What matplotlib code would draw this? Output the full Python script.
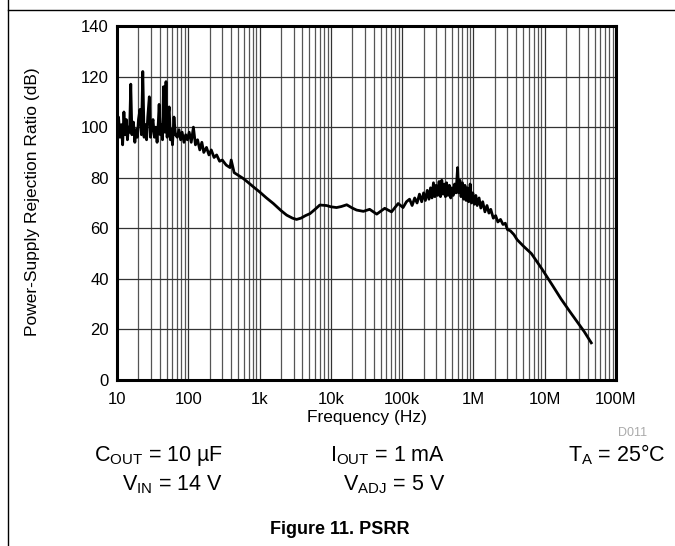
import numpy as np
import matplotlib
matplotlib.use("Agg")
import matplotlib.pyplot as plt
from matplotlib.lines import Line2D
from matplotlib.ticker import FixedLocator, LogLocator, NullFormatter

plt.rcParams['font.family'] = ['Liberation Sans', 'DejaVu Sans']
plt.rcParams['mathtext.fontset'] = 'custom'
plt.rcParams['mathtext.rm'] = 'Liberation Sans'
plt.rcParams['mathtext.it'] = 'Liberation Sans:italic'

# frequency (Hz) and PSRR (dB)
freq = [10, 10.5, 11, 11.5, 12, 12.5, 13, 13.5, 14, 14.5, 15, 15.6, 16.2, 17,
        17.8, 18.5, 19.3, 20, 21, 22, 23, 24, 25, 26, 27, 28.4, 29.5, 31, 32,
        33.5, 35, 36.5, 38, 39, 40.5, 42, 43.5, 45, 47, 48.7, 50.5, 52, 54, 56,
        58, 60, 63, 66, 70, 74, 78, 82, 87, 92, 97, 103, 110, 118, 126, 135,
        145, 155, 165, 180, 195, 210, 230, 250, 275, 300, 340, 385, 400, 440,
        500, 590, 700, 850, 1000, 1250, 1560, 2000, 2400, 2900, 3300, 3800,
        4400, 5100, 6000, 7000, 8700, 10e3, 12e3, 14e3, 16.7e3, 20e3, 23e3,
        28.6e3, 35e3, 44e3, 57e3, 71e3, 88e3, 103e3, 115e3, 127e3, 138e3,
        150e3, 162e3, 175e3, 188e3, 200e3, 212e3, 225e3, 238e3, 250e3, 262e3,
        275e3, 288e3, 300e3, 315e3, 330e3, 345e3, 360e3, 375e3, 390e3, 405e3,
        420e3, 440e3, 460e3, 480e3, 500e3, 520e3, 545e3, 570e3, 600e3, 620e3,
        645e3, 670e3, 700e3, 730e3, 760e3, 790e3, 820e3, 860e3, 900e3, 940e3,
        980e3, 1.03e6, 1.08e6, 1.13e6, 1.2e6, 1.27e6, 1.35e6, 1.45e6, 1.55e6,
        1.65e6, 1.75e6, 1.9e6, 2.05e6, 2.2e6, 2.4e6, 2.6e6, 2.8e6, 3.0e6,
        3.3e6, 3.7e6, 4.1e6, 5e6, 6.5e6, 9.1e6, 12.8e6, 17e6, 22.6e6, 35.9e6,
        45e6]
psrr = [99, 104, 96, 101, 93, 106, 97, 103, 95, 100, 98, 117, 97, 102,
        94, 99, 96, 103, 107, 97, 122, 96, 101, 95, 104, 112, 96, 101, 103,
        96, 100, 94, 102, 109, 97, 101, 95, 116, 98, 118, 96, 104, 108, 95,
        99, 93, 104, 97, 96, 99, 95, 98, 94, 97, 95, 98, 94, 100, 93, 95,
        91, 94, 90, 92, 89, 91, 88, 89, 86.5, 87, 85, 84, 87, 82,
        81, 79.7, 78, 76, 74.4, 72, 69.8, 67, 65.2, 64, 63.5, 64,
        65, 65.8, 67.5, 69.2, 69, 68.5, 68.2, 68.6, 69.3, 68, 67.2,
        66.7, 67.5, 65.6, 67.9, 66.5, 69.8, 68.2, 70.5, 71.5, 69,
        72, 70, 73.5, 70.5, 74, 71, 75, 71.5, 76, 72,
        78, 72.5, 77, 73, 78.5, 72.5, 79, 73.5, 77.5, 72.5,
        78, 73, 77, 72, 76, 73, 77.5, 74, 84, 74,
        79, 72.5, 78, 71.5, 77, 71, 76, 70.5, 77.5, 70,
        74, 69.5, 73, 69, 72, 68, 70.5, 66.5, 69,
        66, 67.5, 64, 65, 62.5, 63.5, 61.5, 62, 59.5,
        59, 57.5, 55.5, 53, 50, 44, 37.5, 32, 27, 19.1,
        14.7]

xticks = [10, 100, 1e3, 1e4, 1e5, 1e6, 1e7, 1e8]
xtick_labels = ['10', '100', '1k', '10k', '100k', '1M', '10M', '100M']
yticks = [0, 20, 40, 60, 80, 100, 120, 140]

W, H = 675, 546
fig = plt.figure(figsize=(W / 100, H / 100), dpi=100)
ax = fig.add_axes([117 / W, 1 - 380 / H, 499 / W, 354 / H])

ax.plot(freq, psrr, color='black', lw=2, zorder=3)

ax.set_xscale('log')
ax.set_xlim(10, 1e8)
ax.set_ylim(0, 140)
ax.xaxis.set_major_locator(FixedLocator(xticks))
ax.set_xticklabels(xtick_labels)
ax.xaxis.set_minor_locator(LogLocator(base=10, subs=np.arange(2, 10), numticks=20))
ax.xaxis.set_minor_formatter(NullFormatter())
ax.set_yticks(yticks)

ax.grid(True, which='major', color='#333333', lw=0.9)
ax.grid(True, which='minor', axis='x', color='#555555', lw=0.9)
ax.tick_params(which='both', length=0, labelsize=12)
ax.tick_params(axis='x', pad=9)
ax.tick_params(axis='y', pad=6)
for s in ax.spines.values():
    s.set_linewidth(2.2)

ax.set_xlabel('Frequency (Hz)', fontsize=12.5, labelpad=2)
fig.text(33 / W, 1 - 202 / H, 'Power-Supply Rejection Ratio (dB)', fontsize=12.5,
         rotation=90, ha='center', va='center')

# datasheet page frame
fig.add_artist(Line2D([8 / W, 8 / W], [0, 1], transform=fig.transFigure, color='black', lw=1))
fig.add_artist(Line2D([8 / W, 1], [1 - 10 / H, 1 - 10 / H], transform=fig.transFigure, color='black', lw=1))

fig.text(647 / W, 1 - 436 / H, 'D011', color='#aaaaaa', fontsize=9, ha='right', va='baseline')

fig.text(223 / W, 1 - 461.5 / H, r'C$_{\rm OUT}$ = 10 µF', fontsize=15.5, ha='right', va='baseline')
fig.text(223 / W, 1 - 490 / H, r'V$_{\rm IN}$ = 14 V', fontsize=15.5, ha='right', va='baseline')
fig.text(445 / W, 1 - 461.5 / H, r'I$_{\rm OUT}$ = 1 mA', fontsize=15.5, ha='right', va='baseline')
fig.text(445 / W, 1 - 490 / H, r'V$_{\rm ADJ}$ = 5 V', fontsize=15.5, ha='right', va='baseline')
fig.text(666 / W, 1 - 461.5 / H, r'T$_{\rm A}$ = 25°C', fontsize=15.5, ha='right', va='baseline')

fig.text(340 / W, 1 - 534 / H, 'Figure 11. PSRR', fontsize=13, fontweight='bold', ha='center', va='baseline')

fig.savefig('out.png', dpi=100)
